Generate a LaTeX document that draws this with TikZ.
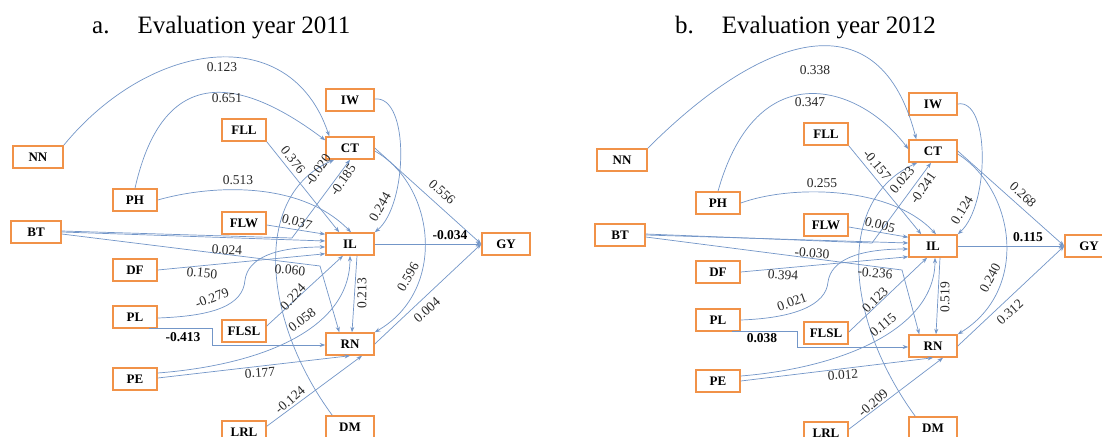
\documentclass[tikz,border=0pt]{standalone}
\usepackage{fontspec}
\setmainfont{Liberation Serif}
\usetikzlibrary{calc,arrows.meta}
\definecolor{boxorange}{RGB}{241,146,72}
\definecolor{edgeblue}{RGB}{115,150,200}
\definecolor{labgray}{RGB}{40,40,40}
\begin{document}
\begin{tikzpicture}[x=1pt,y=-1pt,
 box/.style={draw=boxorange,line width=1.5pt,fill=white,minimum height=22pt,minimum width=44pt,inner sep=0pt,font=\fontsize{13}{15}\selectfont\bfseries,text=black},
 bigbox/.style={box,minimum width=48pt},
 widebox/.style={box,minimum width=50pt},
 conn/.style={draw=edgeblue,line width=0.7pt,-{Stealth[length=5.5pt,width=4pt]}},
 lbl/.style={inner sep=0pt,font=\fontsize{13.5}{15}\selectfont,text=labgray},
 bl/.style={inner sep=0pt,font=\fontsize{13.5}{15}\selectfont\bfseries,text=black},
 ttl/.style={inner sep=0pt,anchor=base west,font=\fontsize{25}{30}\selectfont}]
\useasboundingbox (0,0) rectangle (1102,436);
\clip (0,0) rectangle (1102,436);
\fill[white] (0,0) rectangle (1102,436);
% titles
\node[ttl] (ta) at (92,34) {a.\hspace{28pt}Evaluation year 2011};
\node[ttl] (tb) at (675,34) {b.\hspace{28pt}Evaluation year 2012};
% ---------- panel a nodes
\node[widebox] (aNN) at (38,157) {NN};
\node[box] (aPH) at (135,200) {PH};
\node[widebox] (aBT) at (36,232) {BT};
\node[box] (aDF) at (135,270) {DF};
\node[box] (aPL) at (135,317) {PL};
\node[box] (aPE) at (135,379) {PE};
\node[box] (aFLL) at (244,130) {FLL};
\node[box] (aFLW) at (244,223) {FLW};
\node[box] (aFLSL) at (244,331) {FLSL};
\node[box] (aLRL) at (244,432) {LRL};
\node[bigbox] (aIW) at (350,100) {IW};
\node[bigbox] (aCT) at (350,148) {CT};
\node[bigbox] (aIL) at (350,244) {IL};
\node[bigbox] (aRN) at (350,344) {RN};
\node[bigbox] (aDM) at (350,427) {DM};
\node[bigbox] (aGY) at (506,244) {GY};
% ---------- panel a connectors
\draw[conn] (aNN.north east) .. controls (150,40) and (290,20) .. ($(aCT.north west)+(4,0)$);
\draw[conn] (aPH.north) .. controls (165,55) and (249,83) .. ($(aCT.north west)+(0,4)$);
\draw[conn] (aFLL.south east) -- ($(aIL.north west)+(14,0)$);
\draw[conn] (aPH.east) .. controls (210,185) and (300,180) .. ($(aIL.north)+(1,0)$);
\draw[conn] ($(aFLW.east)+(0,2)$) -- ($(aIL.north west)+(0,2)$);
\draw[conn] ($(aBT.east)+(0,-1)$) -- (292,238) -- (aCT.south);
\draw[conn] ($(aDM.north west)+(7,0)$) .. controls (262,320) and (252,195) .. ($(aCT.south west)+(9,0)$);
\draw[conn] (aBT.east) -- ($(aIL.west)+(0,-3)$);
\draw[conn] (aDF.east) -- ($(aIL.south west)+(0,-2)$);
\draw[conn] ($(aBT.east)+(0,2)$) -- (320,266) -- ($(aRN.north west)+(14,0)$);
\draw[conn] ($(aPL.east)+(0,1)$) .. controls (215,316) and (243,305) .. (245,280) .. controls (248,258) and (275,247) .. ($(aIL.west)+(0,3)$);
\draw[conn] ($(aPL.south east)+(-9,0)$) -- ++(64,0) |- ($(aRN.west)+(0,1)$);
\draw[conn] ($(aFLSL.east)+(0,-5)$) -- ($(aIL.south)+(-7,0)$);
\draw[conn] ($(aPE.east)+(0,-6)$) .. controls (260,365) and (350,330) .. (aIL.south);
\draw[conn] ($(aPE.east)+(0,-1)$) -- (aRN.south);
\draw[conn] ($(aLRL.north east)+(0,6)$) -- ($(aRN.south)+(12,0)$);
\draw[conn] ($(aIL.south)+(7,0)$) -- ($(aRN.north)+(2,0)$);
\draw[conn] ($(aIW.east)+(0,-1)$) .. controls (410,95) and (408,205) .. (aIL.north east);
\draw[conn] (aCT.east) -- (aGY.west);
\draw[conn] (aIL.east) -- (aGY.west);
\draw[conn] ($(aCT.east)+(0,3)$) .. controls (435,185) and (448,290) .. (aRN.north east);
\draw[conn] (aRN.east) -- (aGY.west);
% ---------- panel a labels
\node[lbl] (aL1) at (222,67) {0.123};
\node[lbl] (aL2) at (227,98) {0.651};
\node[lbl,rotate=-51] (aL3) at (293,160) {0.376};
\node[lbl,rotate=55] (aL4) at (318,170) {-0.020};
\node[lbl,rotate=55] (aL5) at (343,180) {-0.185};
\node[lbl] (aL6) at (238,180) {0.513};
\node[lbl,rotate=-15] (aL7) at (297,222) {0.037};
\node[lbl,rotate=60] (aL8) at (380,207) {0.244};
\node[lbl,rotate=-42] (aL9) at (442,192) {0.556};
\node[bl] (aL10) at (450,235) {-0.034};
\node[lbl,rotate=-3] (aL11) at (227,250) {0.024};
\node[lbl,rotate=-5] (aL12) at (202,273) {0.150};
\node[lbl,rotate=-5] (aL13) at (290,270) {0.060};
\node[lbl,rotate=21] (aL14) at (212,298) {-0.279};
\node[lbl,rotate=47] (aL15) at (293,297) {0.224};
\node[lbl,rotate=90] (aL16) at (362,293) {0.213};
\node[lbl,rotate=60] (aL17) at (408,277) {0.596};
\node[lbl,rotate=37] (aL18) at (302,320) {0.058};
\node[bl] (aL19) at (183,337) {-0.413};
\node[lbl,rotate=42] (aL20) at (427,310) {0.004};
\node[lbl,rotate=4] (aL21) at (260,373) {0.177};
\node[lbl,rotate=41] (aL22) at (290,400) {-0.124};
% ---------- panel b nodes
\node[widebox] (bNN) at (622,160) {NN};
\node[box] (bPH) at (718,203) {PH};
\node[widebox] (bBT) at (620,235) {BT};
\node[box] (bDF) at (718,272) {DF};
\node[box] (bPL) at (718,320) {PL};
\node[box] (bPE) at (718,381) {PE};
\node[box] (bFLL) at (826,134) {FLL};
\node[box] (bFLW) at (826,225) {FLW};
\node[box] (bFLSL) at (826,333) {FLSL};
\node[box] (bLRL) at (826,433) {LRL};
\node[bigbox] (bIW) at (933,104) {IW};
\node[bigbox] (bCT) at (933,151) {CT};
\node[bigbox] (bIL) at (933,246) {IL};
\node[bigbox] (bRN) at (933,346) {RN};
\node[bigbox] (bDM) at (933,428) {DM};
\node[bigbox] (bGY) at (1089,246) {GY};
% ---------- panel b connectors
\draw[conn] (bNN.north east) .. controls (765,31) and (880,-2) .. ($(bCT.north west)+(8,0)$);
\draw[conn] (bPH.north) .. controls (757,52) and (860,85) .. ($(bCT.west)+(0,-2)$);
\draw[conn] (bFLL.south east) -- ($(bIL.north west)+(13,0)$);
\draw[conn] (bPH.east) .. controls (790,185) and (890,185) .. ($(bIL.north)+(3,0)$);
\draw[conn] ($(bFLW.east)+(0,2)$) -- ($(bIL.north west)+(0,3)$);
\draw[conn] ($(bBT.east)+(0,-1)$) -- (872,243) -- ($(bCT.south)+(-2,0)$);
\draw[conn] ($(bDM.north west)+(7,0)$) .. controls (845,320) and (835,200) .. ($(bCT.south west)+(9,0)$);
\draw[conn] (bBT.east) -- ($(bIL.west)+(0,-3)$);
\draw[conn] (bDF.east) -- ($(bIL.south west)+(0,-1)$);
\draw[conn] ($(bBT.east)+(0,2)$) -- (902,270) -- ($(bRN.north west)+(11,0)$);
\draw[conn] (bPL.east) .. controls (795,318) and (826,305) .. (828,282) .. controls (831,260) and (858,249) .. ($(bIL.west)+(0,3)$);
\draw[conn] ($(bPL.south east)+(-9,0)$) -- ++(66,0) |- ($(bRN.west)+(0,1)$);
\draw[conn] ($(bFLSL.east)+(0,-1)$) -- ($(bIL.south)+(-6,0)$);
\draw[conn] ($(bPE.east)+(0,-5)$) .. controls (840,368) and (935,330) .. ($(bIL.south)+(2,0)$);
\draw[conn] (bPE.east) -- (bRN.south);
\draw[conn] ($(bLRL.north east)+(0,8)$) -- ($(bRN.south)+(10,0)$);
\draw[conn] ($(bIL.south)+(7,0)$) -- ($(bRN.north)+(3,0)$);
\draw[conn] (bIW.east) .. controls (990,98) and (990,205) .. (bIL.north east);
\draw[conn] (bCT.east) -- (bGY.west);
\draw[conn] (bIL.east) -- (bGY.west);
\draw[conn] ($(bCT.east)+(0,3)$) .. controls (1015,190) and (1030,290) .. (bRN.north east);
\draw[conn] (bRN.east) -- (bGY.west);
% ---------- panel b labels
\node[lbl] (bL1) at (815,70) {0.338};
\node[lbl] (bL2) at (810,102) {0.347};
\node[lbl,rotate=-50] (bL3) at (877,165) {-0.157};
\node[lbl,rotate=50] (bL4) at (902,180) {0.023};
\node[lbl,rotate=55] (bL5) at (923,188) {-0.241};
\node[lbl] (bL6) at (822,183) {0.255};
\node[lbl,rotate=-15] (bL7) at (880,225) {0.005};
\node[lbl,rotate=58] (bL8) at (962,210) {0.124};
\node[lbl,rotate=-43] (bL9) at (1023,195) {0.268};
\node[bl] (bL10) at (1028,237) {0.115};
\node[lbl,rotate=-4] (bL11) at (812,253) {-0.030};
\node[lbl,rotate=-4] (bL12) at (783,275) {0.394};
\node[lbl,rotate=-5] (bL13) at (875,273) {-0.236};
\node[lbl,rotate=20] (bL14) at (792,302) {0.021};
\node[lbl,rotate=45] (bL15) at (875,300) {0.123};
\node[lbl,rotate=90] (bL16) at (945,297) {0.519};
\node[lbl,rotate=62] (bL17) at (990,278) {0.240};
\node[lbl,rotate=40] (bL18) at (883,325) {0.115};
\node[bl] (bL19) at (762,338) {0.038};
\node[lbl,rotate=42] (bL20) at (1010,312) {0.312};
\node[lbl,rotate=4] (bL21) at (843,375) {0.012};
\node[lbl,rotate=42] (bL22) at (873,403) {-0.209};
\end{tikzpicture}
\end{document}
